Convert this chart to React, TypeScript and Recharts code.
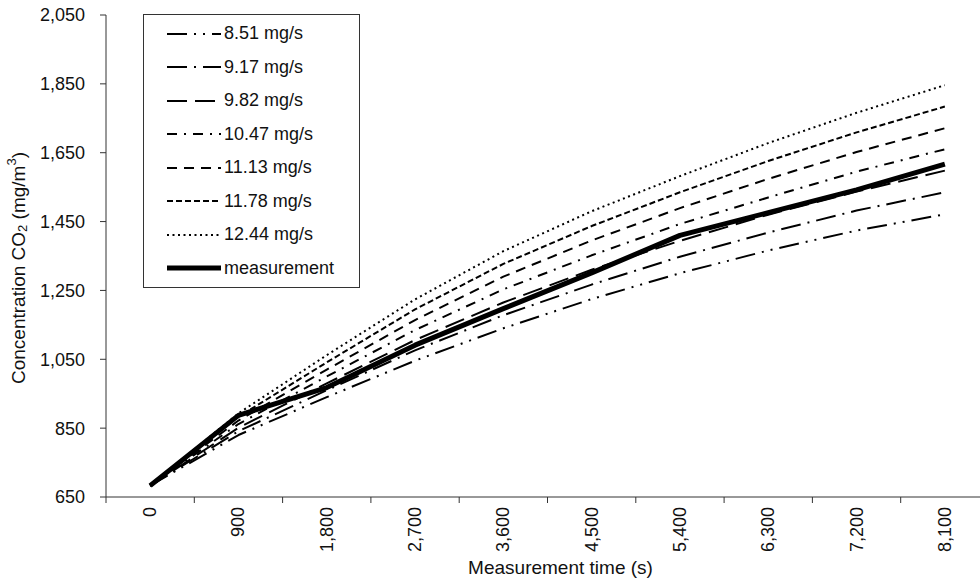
import { LineChart, Line, XAxis, YAxis, Legend, Label } from 'recharts'

// measurement time (s) and CO2 concentration (mg/m3)
const times = [0, 900, 1800, 2700, 3600, 4500, 5400, 6300, 7200, 8100]
const rate851 = [683, 830, 940, 1046, 1140, 1225, 1300, 1366, 1424, 1471]
const rate917 = [683, 841, 960, 1076, 1178, 1267, 1348, 1418, 1482, 1535]
const rate982 = [683, 851, 980, 1106, 1215, 1310, 1394, 1470, 1537, 1598]
const rate1047 = [683, 862, 1000, 1135, 1253, 1352, 1443, 1520, 1595, 1660]
const rate1113 = [683, 872, 1020, 1164, 1290, 1395, 1489, 1574, 1652, 1721]
const rate1178 = [683, 883, 1041, 1195, 1327, 1437, 1535, 1626, 1709, 1784]
const rate1244 = [683, 893, 1062, 1224, 1364, 1480, 1582, 1678, 1766, 1846]
const measured = [683, 887, 968, 1091, 1197, 1301, 1410, 1476, 1542, 1617]

const yTicks = [650, 850, 1050, 1250, 1450, 1650, 1850, 2050]

const series = [
  { key: 'r851', name: '8.51 mg/s', values: rate851, dash: '20 7 2 7 2 7', width: 2 },
  { key: 'r917', name: '9.17 mg/s', values: rate917, dash: '20 7 2 7', width: 2 },
  { key: 'r982', name: '9.82 mg/s', values: rate982, dash: '20 8', width: 2 },
  { key: 'r1047', name: '10.47 mg/s', values: rate1047, dash: '10 7 2 7', width: 2 },
  { key: 'r1113', name: '11.13 mg/s', values: rate1113, dash: '10 7', width: 2 },
  { key: 'r1178', name: '11.78 mg/s', values: rate1178, dash: '6 3', width: 2 },
  { key: 'r1244', name: '12.44 mg/s', values: rate1244, dash: '2 3.5', width: 2 },
  { key: 'meas', name: 'measurement', values: measured, dash: undefined, width: 5 },
]

const chartData = times.map((t, i) => {
  const row: Record<string, number> = { t }
  series.forEach((s) => {
    row[s.key] = s.values[i]
  })
  return row
})

const FONT = '"Liberation Sans", Arial, sans-serif'
const INK = '#111'
const AXIS = '#333'
const CHART_W = 1000
const CHART_H = 583
const PLOT_LEFT = 106
const PLOT_RIGHT = 989
const HALF_STEP = (PLOT_RIGHT - PLOT_LEFT) / (times.length * 2)

// tick marks sit between categories, labels on the categories
const xBoundaries = [...times.map((t) => t - 450), times[times.length - 1] + 450]

function XTick(props: any) {
  const { x, y, payload } = props
  if (payload.value > times[times.length - 1]) return <g />
  const cx = x + HALF_STEP
  return (
    <text
      transform={`translate(${cx},${y}) rotate(-90)`}
      textAnchor="end"
      dominantBaseline="central"
      fontSize={18}
      fontFamily={FONT}
      fill={INK}
    >
      {(payload.value + 450).toLocaleString('en-US')}
    </text>
  )
}

function YTitle(props: any) {
  const { viewBox } = props
  const cx = viewBox.x + 18
  const cy = viewBox.y + viewBox.height / 2 + 12
  return (
    <text
      transform={`translate(${cx},${cy}) rotate(-90)`}
      textAnchor="middle"
      dominantBaseline="central"
      fontSize={19}
      fontFamily={FONT}
      fill={INK}
    >
      Concentration CO
      <tspan dy={4} fontSize={13}>2</tspan>
      <tspan dy={-4}> (mg/m</tspan>
      <tspan dy={-7} fontSize={13}>3</tspan>
      <tspan dy={7}>)</tspan>
    </text>
  )
}

function LegendBox() {
  return (
    <div
      style={{
        border: '1px solid #333',
        background: '#fff',
        padding: '2px 0',
        width: 215,
        boxSizing: 'content-box',
      }}
    >
      {series.map((s) => (
        <div
          key={s.key}
          style={{ display: 'flex', alignItems: 'center', height: 33.5, paddingLeft: 23 }}
        >
          <svg width={54} height={12} style={{ display: 'block' }}>
            <line
              x1={0}
              y1={6}
              x2={54}
              y2={6}
              stroke="#000"
              strokeWidth={s.width}
              strokeDasharray={s.dash}
              strokeLinecap={s.dash ? 'butt' : 'round'}
            />
          </svg>
          <span style={{ marginLeft: 3, fontSize: 18, fontFamily: FONT, color: INK }}>{s.name}</span>
        </div>
      ))}
    </div>
  )
}

export default function App() {
  return (
    <div
      style={{
        position: 'absolute',
        left: 0,
        top: 0,
        width: 980,
        height: 583,
        overflow: 'hidden',
        background: '#fff',
      }}
    >
      <LineChart
        width={CHART_W}
        height={CHART_H}
        data={chartData}
        margin={{ top: 15, right: CHART_W - PLOT_RIGHT, bottom: 6, left: 0 }}
      >
        <XAxis
          dataKey="t"
          type="number"
          domain={[xBoundaries[0], xBoundaries[xBoundaries.length - 1]]}
          ticks={xBoundaries}
          interval={0}
          height={80}
          tickSize={6}
          tickMargin={4}
          tick={<XTick />}
          stroke={AXIS}
          tickLine={{ stroke: AXIS }}
        >
          <Label
            value="Measurement time (s)"
            position="insideBottom"
            offset={3}
            dx={13}
            fontSize={19}
            fontFamily={FONT}
            fill={INK}
          />
        </XAxis>
        <YAxis
          type="number"
          domain={[650, 2050]}
          ticks={yTicks}
          interval={0}
          width={PLOT_LEFT}
          tickSize={6}
          tickMargin={15}
          tickFormatter={(v: number) => v.toLocaleString('en-US')}
          tick={{ fontSize: 18, fontFamily: FONT, fill: INK }}
          stroke={AXIS}
          tickLine={{ stroke: AXIS }}
        >
          <Label content={<YTitle />} />
        </YAxis>
        <Legend
          layout="vertical"
          align="center"
          verticalAlign="middle"
          wrapperStyle={{ left: 143, top: 14, width: 217, height: 'auto' }}
          content={<LegendBox />}
        />
        {series.map((s) => (
          <Line
            key={s.key}
            dataKey={s.key}
            name={s.name}
            type="linear"
            stroke="#000"
            strokeWidth={s.width}
            strokeDasharray={s.dash}
            strokeLinejoin="round"
            dot={false}
            activeDot={false}
            isAnimationActive={false}
          />
        ))}
      </LineChart>
    </div>
  )
}
